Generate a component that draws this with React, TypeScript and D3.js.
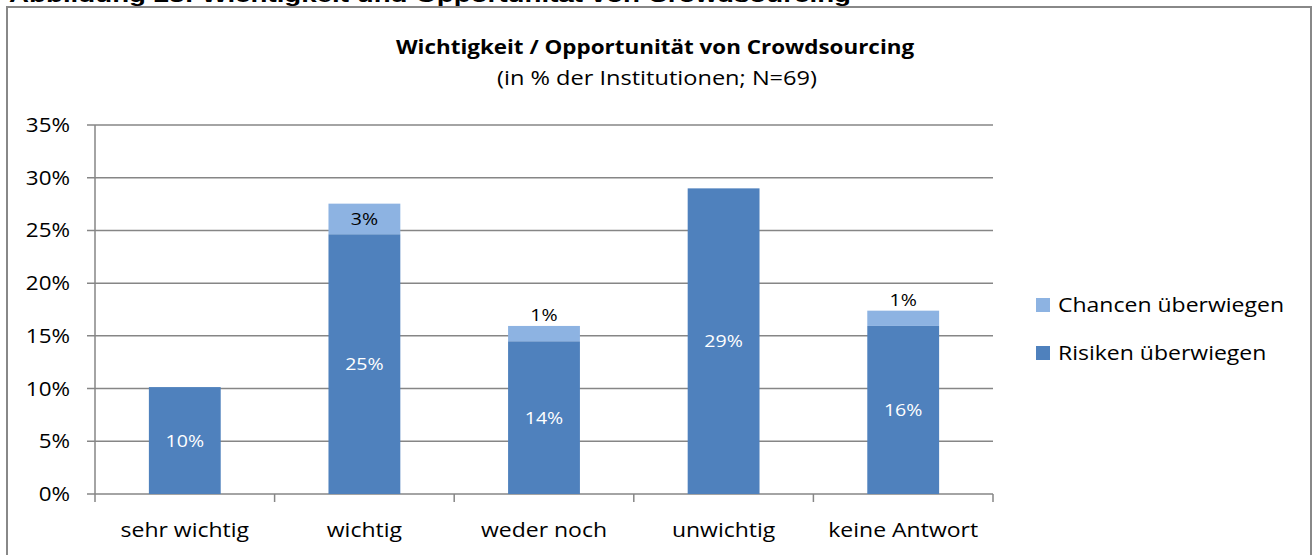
import * as d3 from 'd3';

const categories = ['sehr wichtig', 'wichtig', 'weder noch', 'unwichtig', 'keine Antwort'];
const risiken = [10.14, 24.64, 14.49, 28.99, 15.94];
const chancen = [0, 2.9, 1.45, 0, 1.45];
const yTicks = [0, 5, 10, 15, 20, 25, 30, 35];
const seriesNames = ['Chancen überwiegen', 'Risiken überwiegen'];

const W = 1313;
const H = 555;
const SX = 1.15; // text in the reference is stretched horizontally
const FONT = '"Open Sans", "Noto Sans", sans-serif';
const DARK = '#4F81BD';
const LIGHT = '#8DB3E2';
const GRID = '#868686';

function T({ x, y, anchor = 'middle', size, weight = 400, fill = '#000', sx = SX, children }: any) {
  return (
    <text
      transform={`translate(${x},${y}) scale(${sx},1)`}
      textAnchor={anchor}
      fontSize={size}
      fontWeight={weight}
      fill={fill}
      fontFamily={FONT}
    >
      {children}
    </text>
  );
}

export default function App() {
  const x = d3.scaleBand().domain(categories).range([95, 993]).paddingInner(0).paddingOuter(0);
  const y = d3.scaleLinear().domain([0, 35]).range([494, 125]);
  const barW = x.bandwidth() * 0.4;

  const rows = categories.map((c, i) => ({ c, r: risiken[i], ch: chancen[i] }));

  return (
    <svg width={W} height={H} style={{ position: 'absolute', left: 0, top: 0, background: '#fff' }}>
      {/* figure caption, cut off at the top like in the source */}
      <text
        x={9}
        y={2}
        fontFamily='"Liberation Sans", Arial, sans-serif'
        fontWeight={700}
        fontSize={21}
        textLength={842}
        lengthAdjust="spacingAndGlyphs"
      >
        Abbildung 23: Wichtigkeit und Opportunität von Crowdsourcing
      </text>
      <rect x={7} y={7} width={1304} height={H} fill="none" stroke="#888" strokeWidth={2} />

      <T x={655} y={54} size={19.5} weight={700}>Wichtigkeit / Opportunität von Crowdsourcing</T>
      <T x={657} y={85} size={20.5}>(in % der Institutionen; N=69)</T>

      {/* gridlines + y ticks */}
      {yTicks.map((t) => (
        <g key={t}>
          <line x1={87} x2={993} y1={y(t)} y2={y(t)} stroke={GRID} strokeWidth={1.5} />
          <T x={70} y={y(t) + 7} anchor="end" size={19.5}>{`${t}%`}</T>
        </g>
      ))}
      <line x1={95} x2={95} y1={y(35)} y2={y(0)} stroke={GRID} strokeWidth={1.5} />
      {categories.concat(['']).map((c, i) => {
        const xx = 95 + i * x.step();
        return <line key={i} x1={xx} x2={xx} y1={y(0)} y2={y(0) + 8} stroke={GRID} strokeWidth={1.5} />;
      })}

      {/* bars */}
      {rows.map((d) => {
        const cx = (x(d.c) as number) + x.bandwidth() / 2;
        const x0 = cx - barW / 2;
        const yR = y(d.r);
        const yC = y(d.r + d.ch);
        const chH = yR - yC;
        return (
          <g key={d.c}>
            <rect x={x0} y={yR} width={barW} height={y(0) - yR} fill={DARK} />
            {d.ch > 0 && <rect x={x0} y={yC} width={barW} height={chH} fill={LIGHT} />}
            <T x={cx} y={(yR + y(0)) / 2 + 6} size={17} fill="#fff">{`${Math.round(d.r)}%`}</T>
            {d.ch > 0 && (
              <T x={cx} y={chH > 20 ? (yC + yR) / 2 + 6 : yC - 5} size={17}>
                {`${Math.round(d.ch)}%`}
              </T>
            )}
          </g>
        );
      })}

      {/* category labels */}
      {categories.map((c) => (
        <T key={c} x={(x(c) as number) + x.bandwidth() / 2} y={537} size={20}>{c}</T>
      ))}

      {/* legend */}
      {seriesNames.map((s, i) => (
        <g key={s}>
          <rect x={1036} y={298 + i * 48} width={14} height={14} fill={i === 0 ? LIGHT : DARK} />
          <T x={1058} y={312 + i * 48} anchor="start" size={20}>{s}</T>
        </g>
      ))}
    </svg>
  );
}
